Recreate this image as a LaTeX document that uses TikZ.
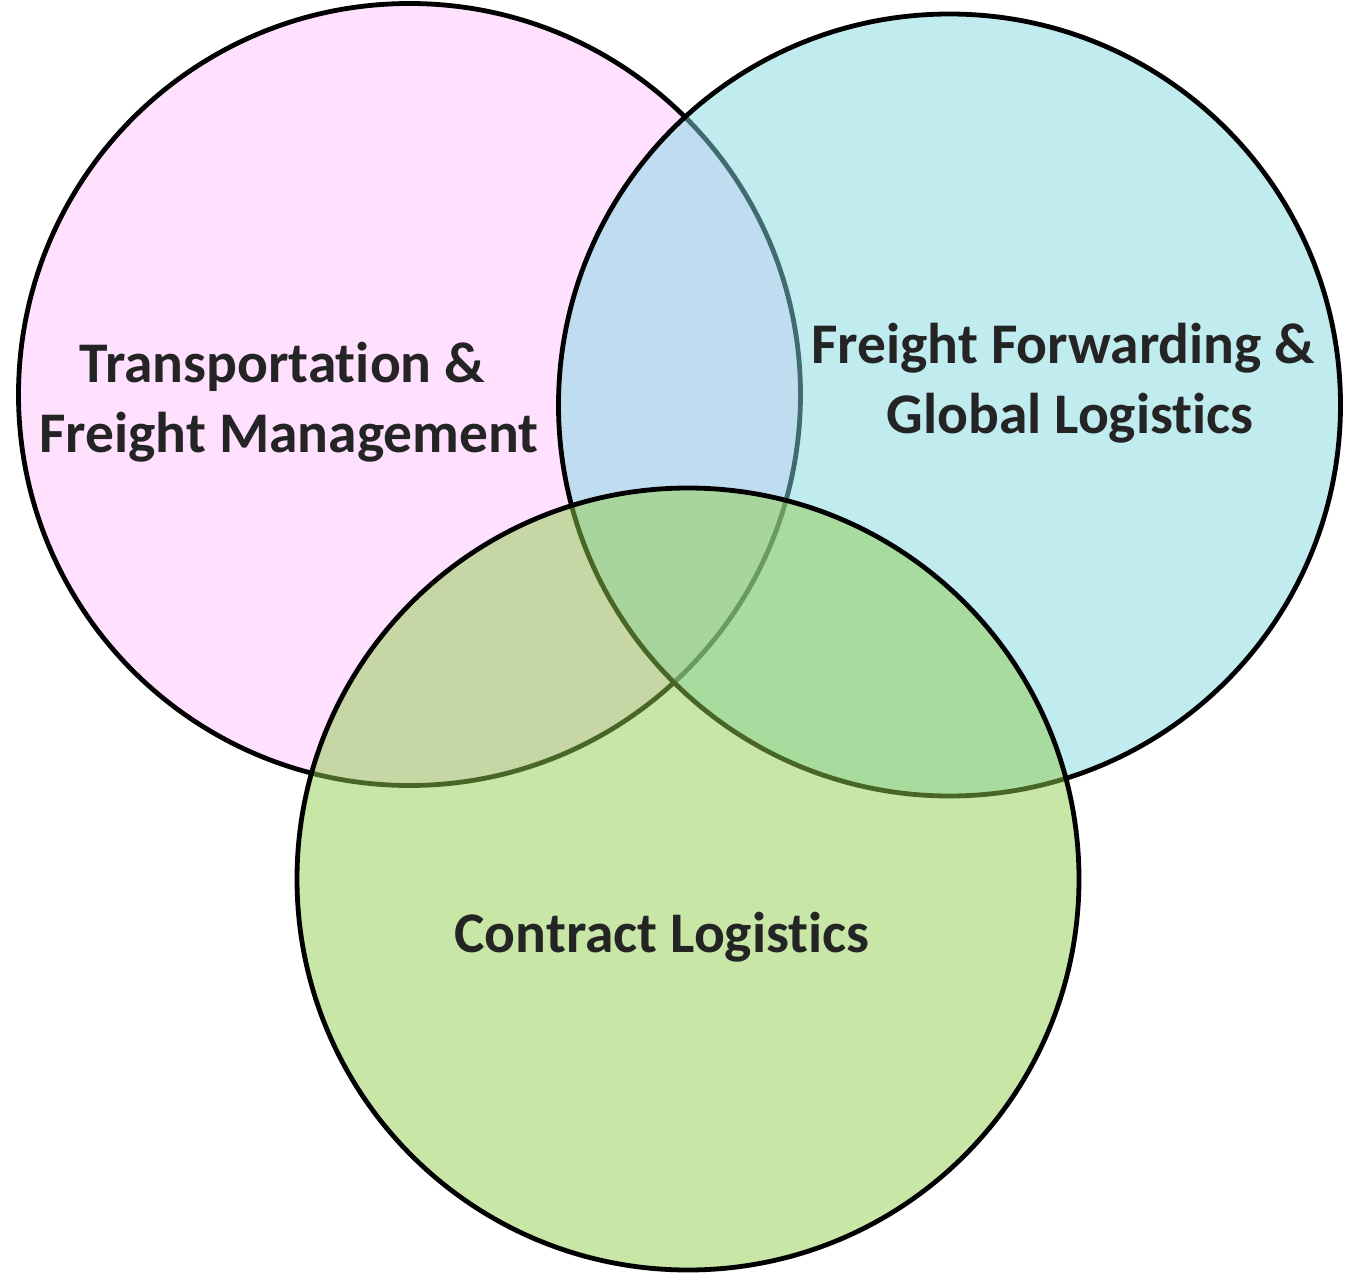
\documentclass[tikz,border=0pt]{standalone}
\usepackage{fontspec}
\setmainfont{Carlito}[RawFeature={-liga;-clig;-dlig;-calt}]
\definecolor{pinkbase}{RGB}{255,195,255}
\definecolor{cyanbase}{RGB}{129,217,225}
\definecolor{greenbase}{RGB}{145,205,77}
\definecolor{txt}{RGB}{36,36,36}
\begin{document}
\begin{tikzpicture}[x=1pt,y=-1pt,
  venn/.style={circle, draw=black, line width=4.8pt, minimum size=782pt, inner sep=0pt, fill opacity=0.5},
  lbl/.style={anchor=base, inner sep=0pt, text=txt, font=\fontsize{57.5}{70}\selectfont\bfseries}]
\useasboundingbox (0,0) rectangle (1355,1273);
\node[venn, fill=pinkbase] (c1) at (409.5,394.5) {};
\node[venn, fill=cyanbase] (c2) at (949.5,405) {};
\node[venn, fill=greenbase] (c3) at (688,879) {};
\node[lbl] (t1a) at (289,382) {Transportat\kern0pt ion \&\hspace*{0.23em}};
\node[lbl] (t1b) at (289,452) {Freight Management};
\node[lbl] (t2a) at (1070,363) {Freight Forwarding \&\hspace*{0.23em}};
\node[lbl] (t2b) at (1070,433) {Global Logist\kern0pt ics};
\node[lbl] (t3) at (662,952) {Contract Logist\kern0pt ics};
\end{tikzpicture}
\end{document}
